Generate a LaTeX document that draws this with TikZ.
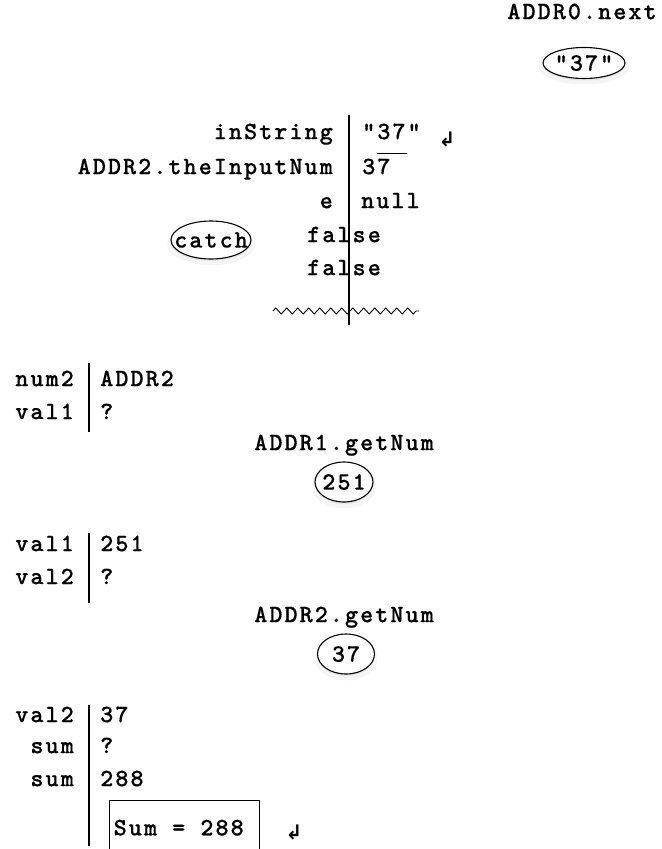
\documentclass[tikz,border=0pt]{standalone}
\usepackage{fontspec}
\newfontfamily\kod{lmmonolt10-bold.otf}[LetterSpace=8,FakeBold=0.4]
\newfontfamily\nyilfont{DejaVu Sans}
\newcommand\koz{\hspace{15.1bp}}
\usetikzlibrary{shapes.geometric,decorations.pathmorphing,shadows}
\tikzset{
  nev/.style={anchor=mid east,inner sep=0pt},
  ertek/.style={anchor=mid west,inner sep=0pt},
  hivas/.style={anchor=mid,inner sep=0pt},
  ovalis/.style={ellipse,draw,line width=1.1bp,fill=white,inner sep=0pt,
                 drop shadow={opacity=0.08,shadow xshift=0bp,shadow yshift=-4bp,shadow scale=1.1},
                 drop shadow={opacity=0.12,shadow xshift=0bp,shadow yshift=-2bp}},
  vonal/.style={line width=1.6bp},
  cikcak/.style={line width=0.9bp,decorate,decoration={zigzag,segment length=11bp,amplitude=3bp}},
  doboz/.style={draw,line width=1.3bp,anchor=north west,align=left,inner sep=4bp,
                minimum width=150bp,minimum height=54bp,text width=142bp},
  enter/.style={font=\nyilfont\bfseries\fontsize{20bp}{20bp}\selectfont,inner sep=0pt},
}

\begin{document}
\begin{tikzpicture}[x=1bp,y=-1bp,font=\kod\fontsize{25bp}{27bp}\selectfont]
  \useasboundingbox (0,0) rectangle (662,849);

  \node[hivas] (next) at (582,17) {ADDR0.next};
  \node[ovalis,minimum width=82bp,minimum height=31bp,label=center:{"37"}] (nextret) at (584,63) {};

  % getNum keret
  \node[nev] (instr) at (333,137) {inString};
  \node[ertek] (instrv) at (362,137) {"37"};
  \node[enter] (enter1) at (447,139) {↲};
  \coordinate (ala) at (377,153);
  \coordinate (alb) at (407,153);
  \draw[line width=1bp] (ala) -- (alb);
  \node[nev] (inum) at (333,172) {ADDR2.theInputNum};
  \node[ertek] (inumv) at (362,172) {37};
  \node[nev] (e) at (333,206) {e};
  \node[ertek] (ev) at (361,206) {null};
  \node[ovalis,minimum width=80bp,minimum height=38bp,label=center:{catch}] (catch) at (211,240) {};
  \node[ertek] (hamis1) at (307,240) {false};
  \node[ertek] (hamis2) at (307,273) {false};
  \coordinate (k1a) at (349,115);
  \coordinate (k1b) at (349,325);
  \draw[vonal] (k1a) -- (k1b);
  \coordinate (zz1) at (273,311);
  \coordinate (zz2) at (419,311);
  \draw[cikcak] (zz1) -- (zz2);

  % main: num2, val1
  \node[nev] (num2) at (74,384) {num2};
  \node[ertek] (num2v) at (100,384) {ADDR2};
  \node[nev] (vala) at (74,417) {val1};
  \node[ertek] (valav) at (100,417) {?};
  \coordinate (k2a) at (89,363);
  \coordinate (k2b) at (89,432);
  \draw[vonal] (k2a) -- (k2b);

  \node[hivas] (get1) at (344,448) {ADDR1.getNum};
  \node[ovalis,minimum width=58bp,minimum height=40bp,label=center:{251}] (get1ret) at (344,482) {};

  \node[nev] (valb) at (74,549) {val1};
  \node[ertek] (valbv) at (100,549) {251};
  \node[nev] (valc) at (74,582) {val2};
  \node[ertek] (valcv) at (100,582) {?};
  \coordinate (k3a) at (89,533);
  \coordinate (k3b) at (89,603);
  \draw[vonal] (k3a) -- (k3b);

  \node[hivas] (get2) at (344,620) {ADDR2.getNum};
  \node[ovalis,minimum width=57bp,minimum height=40bp,label=center:{37}] (get2ret) at (346,654) {};

  \node[nev] (vald) at (74,720) {val2};
  \node[ertek] (valdv) at (100,720) {37};
  \node[nev] (suma) at (74,751) {sum};
  \node[ertek] (sumav) at (100,751) {?};
  \node[nev] (sumb) at (74,784) {sum};
  \node[ertek] (sumbv) at (100,784) {288};
  \coordinate (k4a) at (89,705);
  \coordinate (k4b) at (89,846);
  \draw[vonal] (k4a) -- (k4b);
  \node[doboz] (kiir) at (109,800) {Sum\koz=\koz288};
  \node[enter] (enter2) at (294,832) {↲};
\end{tikzpicture}
\end{document}
